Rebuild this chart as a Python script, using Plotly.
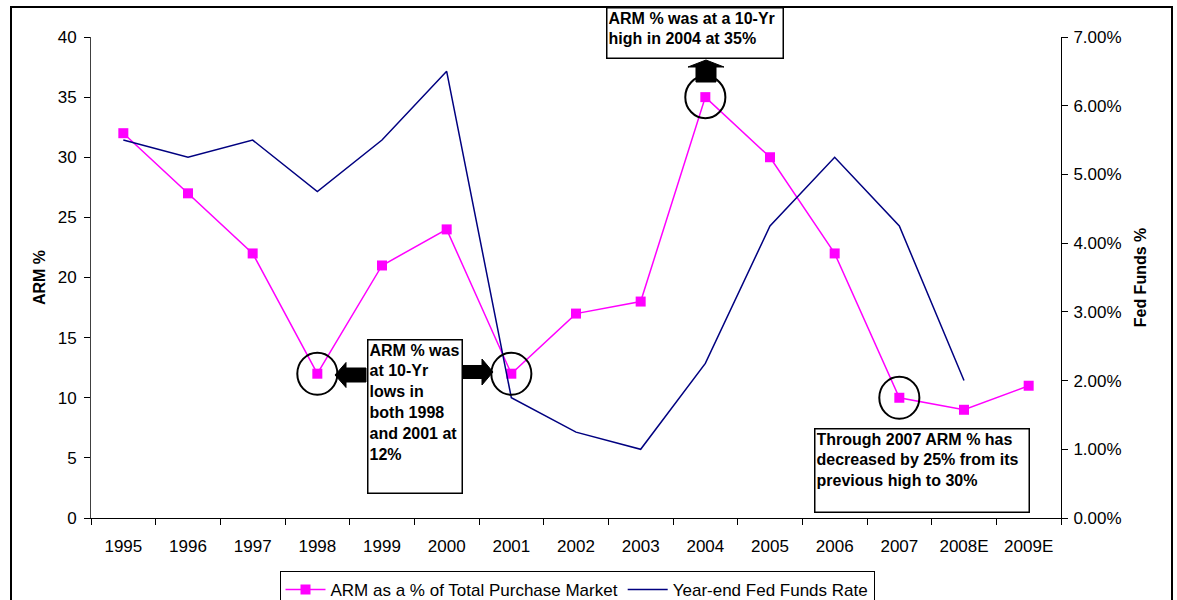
import plotly.graph_objects as go

# ---- data -------------------------------------------------------------
years = ["1995", "1996", "1997", "1998", "1999", "2000", "2001", "2002",
         "2003", "2004", "2005", "2006", "2007", "2008E", "2009E"]
arm_pct = [32, 27, 22, 12, 21, 24, 12, 17, 18, 35, 30, 22, 10, 9, 11]
fed_funds = [0.055, 0.0525, 0.055, 0.0475, 0.055, 0.065, 0.0175, 0.0125,
             0.010, 0.0225, 0.0425, 0.0525, 0.0425, 0.020, None]

# points that get a ring drawn around them
ringed_years = ["1998", "2001", "2004", "2007"]

# ---- layout geometry (pixels) ----------------------------------------
W, H = 1177, 600
ML, MR, MT, MB = 91, 116, 37, 82
PW, PH = W - ML - MR, H - MT - MB


def px(x):
    return (x - ML) / PW


def py(y):
    return (H - MB - y) / PH


FONT = "Liberation Sans, Arial, sans-serif"

fig = go.Figure()
fig.add_trace(go.Scatter(
    x=years, y=arm_pct, name="ARM as a % of Total Purchase Market",
    mode="lines+markers",
    line=dict(color="#FF00FF", width=1.5),
    marker=dict(symbol="square", size=10, color="#FF00FF"),
))
fig.add_trace(go.Scatter(
    x=years, y=fed_funds, name="Year-end Fed Funds Rate",
    mode="lines", yaxis="y2",
    line=dict(color="#000080", width=1.5),
))

shapes = []

# outer frame
shapes.append(dict(type="rect", xref="paper", yref="paper",
                   x0=px(11), x1=px(1172), y0=py(640), y1=py(7),
                   line=dict(color="black", width=2)))

# rings around the highlighted points (data coordinates)
for yr in ringed_years:
    i = years.index(yr)
    v = arm_pct[i]
    shapes.append(dict(type="circle", xref="x", yref="y",
                       x0=i - 0.31, x1=i + 0.31, y0=v - 1.75, y1=v + 1.75,
                       line=dict(color="black", width=2)))


def arrow_h(tip_x, base_x, head_x, cy, shaft_h, head_h):
    """Block arrow pointing horizontally from base_x to tip_x."""
    pts = [(base_x, cy - shaft_h), (head_x, cy - shaft_h), (head_x, cy - head_h),
           (tip_x, cy), (head_x, cy + head_h), (head_x, cy + shaft_h),
           (base_x, cy + shaft_h)]
    return "M " + " L ".join(f"{px(a):.5f},{py(b):.5f}" for a, b in pts) + " Z"


def arrow_v(tip_y, base_y, head_y, cx, shaft_w, head_w):
    """Block arrow pointing vertically from base_y to tip_y."""
    pts = [(cx - shaft_w, base_y), (cx - shaft_w, head_y), (cx - head_w, head_y),
           (cx, tip_y), (cx + head_w, head_y), (cx + shaft_w, head_y),
           (cx + shaft_w, base_y)]
    return "M " + " L ".join(f"{px(a):.5f},{py(b):.5f}" for a, b in pts) + " Z"


for path in [arrow_h(335, 366, 346, 375, 7, 12.5),
             arrow_h(493, 463, 482, 372, 6.5, 13),
             arrow_v(60, 82, 67, 706, 10, 18)]:
    shapes.append(dict(type="path", xref="paper", yref="paper", path=path,
                       fillcolor="black", line=dict(color="black", width=1)))

box_font = dict(family=FONT, size=16, color="black")


def text_box(text, x0, x1, y0, y1):
    return dict(text=text, xref="paper", yref="paper",
                x=px((x0 + x1) / 2), y=py((y0 + y1) / 2),
                xanchor="center", yanchor="middle",
                width=x1 - x0 - 6, height=y1 - y0 - 6,
                align="left", valign="top", showarrow=False,
                bgcolor="white", bordercolor="black", borderwidth=1.5,
                borderpad=1, font=box_font)


annotations = [
    text_box("<b>ARM % was<br>at 10-Yr<br>lows in<br>both 1998<br>and 2001 at<br>12%</b>",
             366, 463, 338, 494),
    text_box("<b>ARM % was at a 10-Yr<br>high in 2004 at 35%</b>",
             605, 784, 7, 60),
    text_box("<b>Through 2007 ARM % has<br>decreased by 25% from its<br>previous high to 30%</b>",
             813, 1030, 427, 513),
]

tick_font = dict(family=FONT, size=17, color="black")

fig.update_layout(
    width=W, height=H,
    margin=dict(l=ML, r=MR, t=MT, b=MB, autoexpand=False),
    paper_bgcolor="white", plot_bgcolor="white",
    font=dict(family=FONT, color="black"),
    showlegend=True,
    legend=dict(orientation="h", x=px(577), y=py(571),
                xanchor="center", yanchor="top",
                bordercolor="black", borderwidth=1, bgcolor="white",
                font=dict(family=FONT, size=17, color="black"),
                traceorder="normal", itemwidth=40),
    xaxis=dict(type="category", range=[-0.5, len(years) - 0.5],
               showline=True, linecolor="black", linewidth=1,
               ticks="outside", ticklen=6, tickcolor="black",
               tickson="boundaries", showgrid=False, zeroline=False,
               tickfont=tick_font, ticklabelstandoff=13, automargin=False),
    yaxis=dict(range=[0, 40], dtick=5, showline=True, linecolor="#404040",
               linewidth=1, ticks="outside", ticklen=6, tickcolor="black",
               showgrid=False, zeroline=False, tickfont=tick_font,
               ticklabelstandoff=4, automargin=False,
               title=dict(text="<b>ARM %</b>", standoff=8,
                          font=dict(family=FONT, size=16, color="black"))),
    yaxis2=dict(range=[0, 0.07], dtick=0.01, tickformat=".2%",
                overlaying="y", side="right", showline=True,
                linecolor="black", linewidth=1, ticks="outside", ticklen=6,
                tickcolor="black", showgrid=False, zeroline=False,
                tickfont=tick_font, ticklabelstandoff=2, automargin=False,
                title=dict(text="<b>Fed Funds %</b>", standoff=14,
                           font=dict(family=FONT, size=16, color="black"))),
    shapes=shapes,
    annotations=annotations,
)

fig.write_html("out.html")
